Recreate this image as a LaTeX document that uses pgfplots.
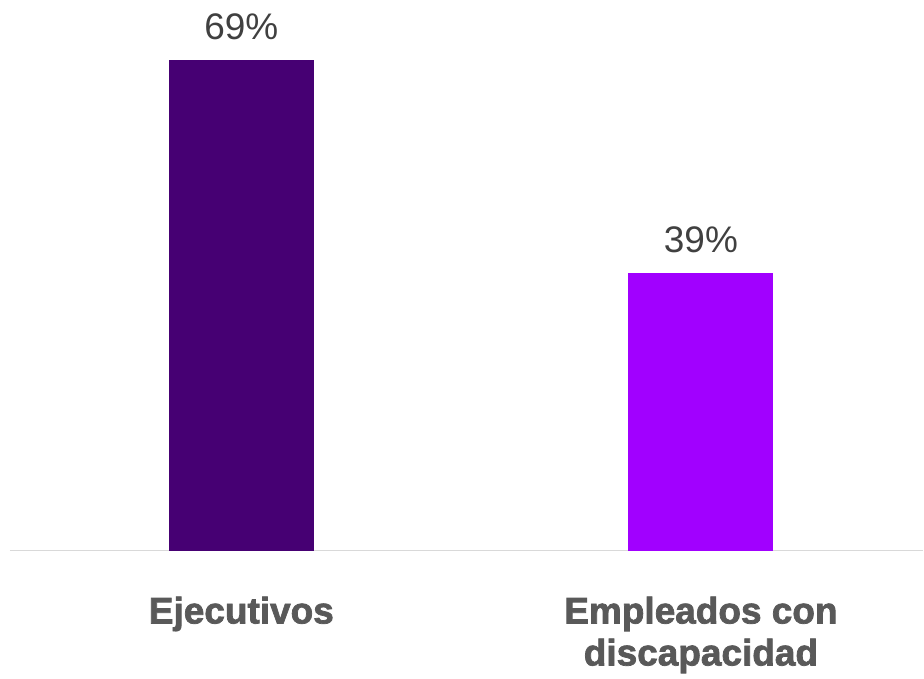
\documentclass[border=0pt]{standalone}
\usepackage{fontspec}
\setmainfont{Liberation Sans}
\newfontfamily\heavy{Liberation Sans}[BoldFeatures={FakeBold=2}]
\usepackage{pgfplots}
\pgfplotsset{compat=1.18}
\definecolor{cA}{HTML}{460073}
\definecolor{cB}{HTML}{A100FF}
\definecolor{lab}{HTML}{595959}
\definecolor{val}{HTML}{404040}
\begin{document}
\begin{tikzpicture}
\begin{axis}[
  scale only axis, width=914pt, height=551pt,
  xmin=-0.5033, xmax=1.4837, ymin=0, ymax=77.4,
  axis y line=none, axis x line=bottom,
  x axis line style={-, draw=black!15, line width=1.5pt},
  xtick={0,1},
  xticklabels={Ejecutivos,{Empleados con\\discapacidad}},
  xticklabel style={font=\heavy\bfseries\fontsize{37}{42}\selectfont, text=lab, align=center, anchor=north, inner sep=0pt, yshift=-46pt},
  major tick length=0pt,
  ybar, bar width=145pt, bar shift=0pt,
  /pgf/number format/assume math mode=true,
  nodes near coords={\pgfmathprintnumber{\pgfplotspointmeta}\%},
  nodes near coords style={font=\fontsize{37}{44}\selectfont, text=val, anchor=south, inner sep=0pt, yshift=20pt},
  clip=false,
]
\addplot[draw=none, fill=cA] coordinates {(0,69)};
\addplot[draw=none, fill=cB] coordinates {(1,39)};
\end{axis}
\path[use as bounding box] (-10pt,-128pt) rectangle (914pt,551pt);
\end{tikzpicture}
\end{document}
